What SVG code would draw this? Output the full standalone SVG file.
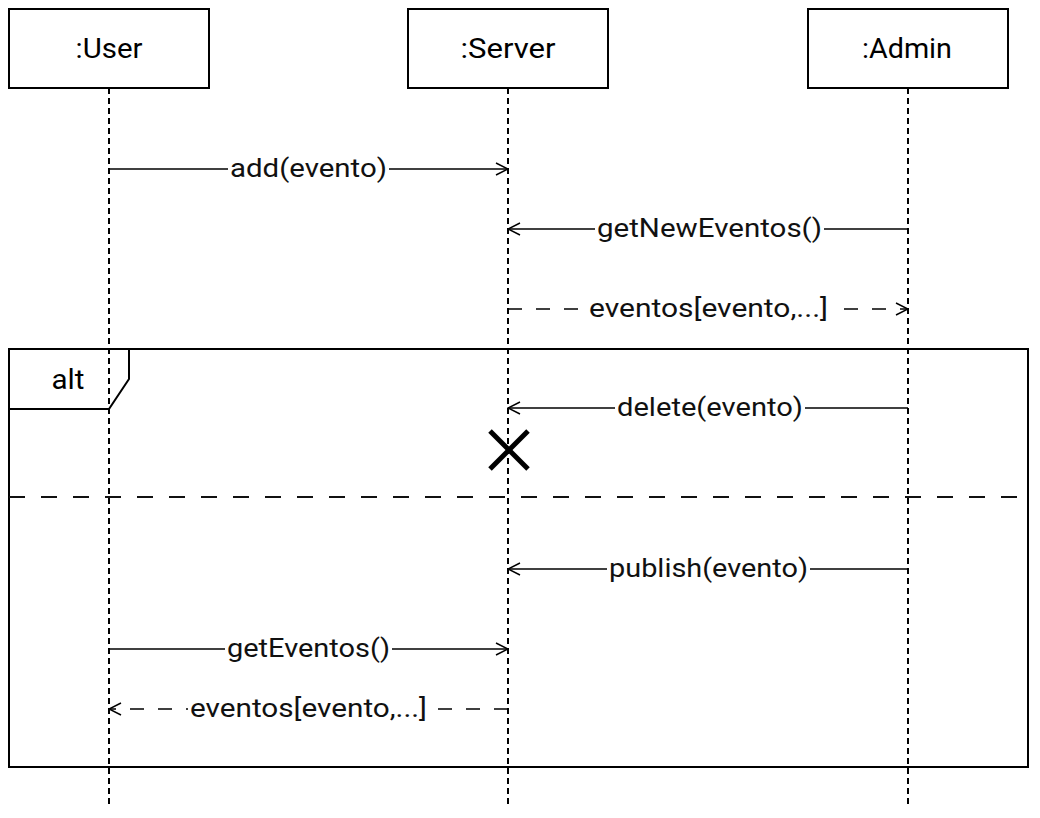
<svg xmlns="http://www.w3.org/2000/svg" width="1040" height="818" viewBox="0 0 1040 818">
<style>
  .box{fill:#fff;stroke:#000;stroke-width:2}
  .title{font-family:Roboto,"Liberation Sans",sans-serif;font-size:27px;fill:#000;text-anchor:middle}
  .life{stroke:#000;stroke-width:2;stroke-dasharray:6 4;fill:none}
  .msg{stroke:#000;stroke-width:1.5;fill:none}
  .ret{stroke:#000;stroke-width:1.5;fill:none;stroke-dasharray:14 14}
  .lbl{font-family:Roboto,"Liberation Sans",sans-serif;font-size:26px;fill:#111;text-anchor:middle}
  .lblbg{fill:#fff}
  .frame{fill:none;stroke:#000;stroke-width:2}
  .sep{stroke:#111;stroke-width:2;stroke-dasharray:16 16;fill:none}
</style>
<defs>
  <marker id="open" viewBox="0 0 14 14" refX="13" refY="7" markerWidth="14" markerHeight="14" markerUnits="userSpaceOnUse" orient="auto">
    <path d="M1,1 L13,7 L1,13" fill="none" stroke="#000" stroke-width="1.5" stroke-dasharray="none"/>
  </marker>
</defs>

<g id="lifelines">
  <line class="life" x1="109" y1="88" x2="109" y2="805"/>
  <line class="life" x1="508" y1="88" x2="508" y2="805"/>
  <line class="life" x1="908" y1="88" x2="908" y2="805"/>
</g>

<g id="user">
  <rect class="box" x="9" y="9" width="200" height="79"/>
  <text class="title" x="109" y="58" textLength="67" lengthAdjust="spacingAndGlyphs">:User</text>
</g>
<g id="server">
  <rect class="box" x="408" y="9" width="200" height="79"/>
  <text class="title" x="508" y="58" textLength="95" lengthAdjust="spacingAndGlyphs">:Server</text>
</g>
<g id="admin">
  <rect class="box" x="808" y="9" width="200" height="79"/>
  <text class="title" x="907" y="58" textLength="90" lengthAdjust="spacingAndGlyphs">:Admin</text>
</g>

<g id="alt-frame">
  <rect class="frame" x="9" y="349" width="1019" height="418"/>
  <path class="frame" d="M9,409 L109,409 L129,379 L129,349"/>
  <text class="title" x="68" y="389" font-size="24" textLength="33" lengthAdjust="spacingAndGlyphs">alt</text>
  <line class="sep" x1="9" y1="497" x2="1028" y2="497"/>
</g>

<g id="destroy">
  <line x1="490" y1="431" x2="528" y2="469" stroke="#000" stroke-width="5"/>
  <line x1="528" y1="431" x2="490" y2="469" stroke="#000" stroke-width="5"/>
</g>

<g id="connectors">
  <line class="msg" x1="109" y1="169" x2="508" y2="169" marker-end="url(#open)"/>
  <rect class="lblbg" x="228" y="152" width="161" height="30"/>
  <text class="lbl" x="308.5" y="177" textLength="157" lengthAdjust="spacingAndGlyphs">add(evento)</text>

  <line class="msg" x1="908" y1="229" x2="508" y2="229" marker-end="url(#open)"/>
  <rect class="lblbg" x="595" y="212" width="229" height="30"/>
  <text class="lbl" x="709.5" y="237" textLength="225" lengthAdjust="spacingAndGlyphs">getNewEventos()</text>

  <line class="ret" x1="508" y1="309" x2="908" y2="309" marker-end="url(#open)"/>
  <rect class="lblbg" x="587" y="292" width="243" height="30"/>
  <text class="lbl" x="708.5" y="317" textLength="239" lengthAdjust="spacingAndGlyphs">eventos[evento,...]</text>

  <line class="msg" x1="908" y1="408" x2="508" y2="408" marker-end="url(#open)"/>
  <rect class="lblbg" x="615" y="391" width="190" height="30"/>
  <text class="lbl" x="710" y="416" textLength="186" lengthAdjust="spacingAndGlyphs">delete(evento)</text>

  <line class="msg" x1="908" y1="569" x2="508" y2="569" marker-end="url(#open)"/>
  <rect class="lblbg" x="607" y="552" width="203" height="30"/>
  <text class="lbl" x="708.5" y="577" textLength="199" lengthAdjust="spacingAndGlyphs">publish(evento)</text>

  <line class="msg" x1="109" y1="649" x2="508" y2="649" marker-end="url(#open)"/>
  <rect class="lblbg" x="225" y="632" width="167" height="30"/>
  <text class="lbl" x="308.5" y="657" textLength="163" lengthAdjust="spacingAndGlyphs">getEventos()</text>

  <line class="ret" x1="508" y1="709" x2="109" y2="709" marker-end="url(#open)"/>
  <rect class="lblbg" x="188" y="692" width="241" height="30"/>
  <text class="lbl" x="308.5" y="717" textLength="237" lengthAdjust="spacingAndGlyphs">eventos[evento,...]</text>
</g>
</svg>
